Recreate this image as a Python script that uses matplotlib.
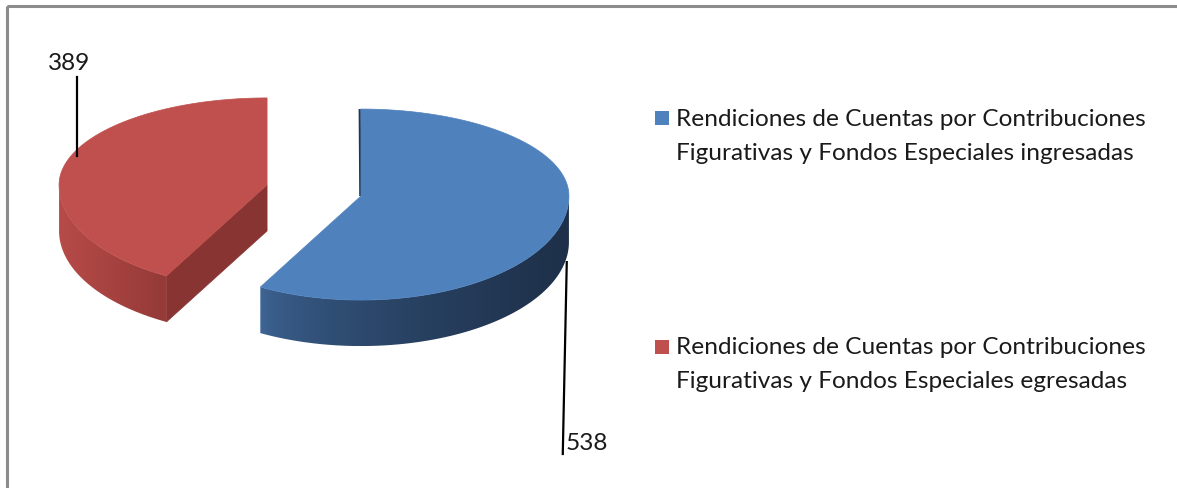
import numpy as np
import matplotlib
matplotlib.use("Agg")
import matplotlib.pyplot as plt
from matplotlib.patches import Polygon, Rectangle
from matplotlib.colors import to_rgb

# ---- data ----
categories = [
    "Rendiciones de Cuentas por Contribuciones\nFigurativas y Fondos Especiales ingresadas",
    "Rendiciones de Cuentas por Contribuciones\nFigurativas y Fondos Especiales egresadas",
]
values = [538, 389]
value_labels = ["538", "389"]
top_colors = ["#4F81BD", "#C0504D"]
side_colors = [("#3F6798", "#1E3049"), ("#B74B48", "#943A38")]
radial_colors = ["#2C4A6E", "#883432"]

# ---- layout (pixel-like data coordinates) ----
W, H = 1177, 489
fig = plt.figure(figsize=(W / 100, H / 100), dpi=100)
ax = fig.add_axes([0, 0, 1, 1])
ax.axis("off")

FONT = ["Lato", "DejaVu Sans"]
FS = 17.6

# border (top and left visible)
ax.add_patch(Rectangle((6.5, 6.5), W + 20, H + 20, fill=False,
                       edgecolor="#8C8C8C", lw=2.2, zorder=0))

cx0, cy0 = 314, 191
a = 208.0
b_up, b_dn = 87.0, 104.0
depth = 46.0
explode = 0.233


def pt(cx, cy, th):
    s = np.sin(th)
    b = np.where(s > 0, b_up, b_dn)
    return cx + a * np.cos(th), cy - b * s


total = float(sum(values))
start = np.pi / 2  # 12 o'clock, clockwise
slices = []
for i, v in enumerate(values):
    span = 2 * np.pi * v / total
    th1 = start - span
    th2 = start
    mid = (th1 + th2) / 2
    b = b_up if np.sin(mid) > 0 else b_dn
    cx = cx0 + explode * a * np.cos(mid)
    cy = cy0 - explode * b * np.sin(mid)
    slices.append((i, th1, th2, cx, cy))
    start = th1


def draw_slice(i, th1, th2, cx, cy, z):
    ths = np.linspace(th1, th2, 600)
    front = ths[np.sin(ths) < 0]
    c0, c1 = np.array(to_rgb(side_colors[i][0])), np.array(to_rgb(side_colors[i][1]))
    for th_edge, sign in ((th2, 1), (th1, -1)):
        normal = th_edge + sign * np.pi / 2
        if np.sin(normal) < -0.05:
            ex, ey = pt(cx, cy, th_edge)
            poly = [(cx, cy), (ex, ey), (ex, ey + depth), (cx, cy + depth)]
            ax.add_patch(Polygon(poly, closed=True, facecolor=radial_colors[i],
                                 edgecolor=radial_colors[i], lw=0.5, zorder=z))
    if len(front) > 1:
        x, y = pt(cx, cy, front)
        poly_pts = list(zip(x, y)) + list(zip(x[::-1], (y + depth)[::-1]))
        side = Polygon(poly_pts, closed=True, facecolor="none",
                       edgecolor="none", zorder=z + 0.1)
        ax.add_patch(side)
        xmin, xmax = x.min(), x.max()
        ymin, ymax = y.min(), (y + depth).max()
        t = np.linspace(0, 1, 256)
        if i == 0:
            t = t ** 0.55
        grad = c0[None, :] + (c1 - c0)[None, :] * t[:, None]
        img = np.repeat(grad[None, :, :], 2, axis=0)
        im = ax.imshow(img, extent=(xmin, xmax, ymax, ymin), aspect="auto",
                       interpolation="bilinear", zorder=z + 0.1)
        im.set_clip_path(side)
    # top face
    x, y = pt(cx, cy, np.linspace(th1, th2, 300))
    poly = [(cx, cy)] + list(zip(x, y))
    ax.add_patch(Polygon(poly, closed=True, facecolor=top_colors[i],
                         edgecolor=top_colors[i], lw=0.5, zorder=z + 0.2))
    if i == 0:
        ex, ey = pt(cx, cy, th2)
        ax.plot([ex - 1.2, cx - 0.6], [ey, cy], color="#1F3550", lw=1.6,
                zorder=z + 0.15, solid_capstyle="butt")


for (i, th1, th2, cx, cy), z in sorted(zip(slices, [3, 1]), key=lambda s: s[1]):
    draw_slice(i, th1, th2, cx, cy, z)

# ---- data labels with leader lines ----
i, th1, th2, cx, cy = slices[0]
lx, ly = pt(cx, cy, np.deg2rad(-10))
ax.plot([lx + 1, lx - 3], [ly + depth + 2, 455], color="black", lw=1.6, zorder=6)
ax.text(lx + 0, 443, value_labels[0], ha="left", va="center",
        fontsize=FS, family=FONT, color="#1a1a1a", zorder=6)

i, th1, th2, cx, cy = slices[1]
lx, ly = pt(cx, cy, np.deg2rad(156))
ax.plot([lx, lx], [ly + 6, 78], color="black", lw=1.6, zorder=6)
ax.text(lx - 8, 63, value_labels[1], ha="center", va="center",
        fontsize=FS, family=FONT, color="#1a1a1a", zorder=6)

# ---- legend ----
leg_y = [119, 348]
line_gap = 34
for k, (lab, col) in enumerate(zip(categories, top_colors)):
    y = leg_y[k]
    ax.add_patch(Rectangle((655, y - 7), 14, 14, facecolor=col,
                           edgecolor="none", zorder=6))
    for j, line in enumerate(lab.split("\n")):
        ax.text(676, y + j * line_gap, line, ha="left", va="center",
                fontsize=FS, family=FONT, color="#1a1a1a", zorder=6)

ax.set_xlim(0, W)
ax.set_ylim(H, 0)
fig.savefig("out.png", dpi=100)
